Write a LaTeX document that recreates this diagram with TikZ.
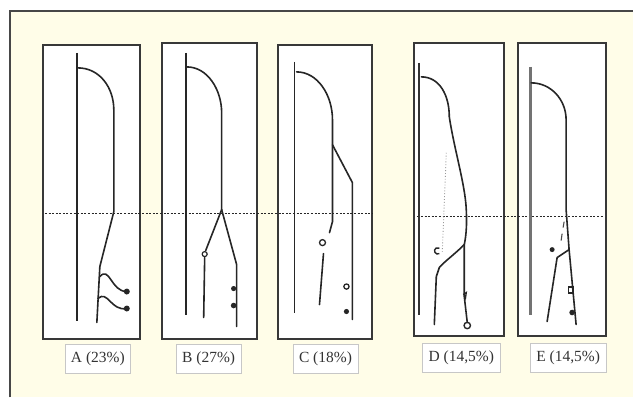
\documentclass[tikz,border=0pt]{standalone}
\usepackage{fontspec}
\setmainfont{Liberation Serif}
\usetikzlibrary{positioning}
\definecolor{paper}{HTML}{FFFDE8}
\tikzset{
  panel/.style={draw=black!78,line width=2pt,fill=white},
  trace/.style={black!85,line width=1.6pt,line cap=round,line join=round},
  shaft/.style={black!85,line width=1.8pt},
  midline/.style={black!85,line width=1.2pt,dash pattern=on 2pt off 1.6pt},
  tag/.style={draw=black!22,fill=white,line width=0.8pt,minimum height=29pt,
    inner xsep=6pt,text=black!80,font=\fontsize{15.5}{18}\selectfont},
}
\begin{document}
\begin{tikzpicture}[x=1pt,y=-1pt]
    \fill[white] (0,0) rectangle (634,398);
    \fill[paper] (10,11) rectangle (634,398);
    \draw[black!72,line width=2pt] (10,398) -- (10,11) -- (634,11);

    \draw[panel] (43,45) rectangle (140,340);
    \draw[panel] (162,43) rectangle (257,340);
    \draw[panel] (278,45) rectangle (373,340);
    \draw[panel] (415,43) rectangle (505,337);
    \draw[panel] (519,43) rectangle (607,337);

    \draw[midline] (45,214) -- (373,214);
    \draw[midline] (418,217) -- (605,217);

    % A
    \coordinate (Atop) at (78,68);
    \coordinate (Asplit) at (114,212);
    \draw[shaft] (77,53) -- (77,322);
    \draw[trace] (Atop) .. controls (100,68) and (114,88) .. (114,110)
        -- (Asplit) -- (100,267) -- (97,323);
    \draw[trace] (100,277) .. controls (110,266) and (111,292) .. (127,292);
    \draw[trace] (98,299) .. controls (108,290) and (111,312) .. (127,309);
    \fill[black!85] (127,292) circle (3) (127,309) circle (3);

    % B
    \coordinate (Btop) at (187,67);
    \coordinate (Bsplit) at (222,210);
    \draw[shaft] (186,53) -- (186,315);
    \draw[trace] (Btop) .. controls (208,67) and (222,90) .. (222,113) -- (Bsplit);
    \draw[trace] (Bsplit) -- (206,251);
    \draw[trace] (205,258) -- (204,318);
    \draw[trace] (Bsplit) -- (237,265) -- (237,327);
    \draw[black!85,line width=1.2pt] (205,254.5) circle (2.5);
    \fill[black!85] (234,289) circle (2.6) (234,306) circle (2.8);

    % C
    \coordinate (Ctop) at (297,72);
    \coordinate (Cfork) at (333,145);
    \draw[shaft] (295,62) -- (295,313);
    \draw[trace] (Ctop) .. controls (318,72) and (333,95) .. (333,120)
        -- (333,222) -- (330,233);
    \draw[trace] (Cfork) -- (353,183) -- (353,320);
    \draw[trace] (324,254) -- (320,305);
    \draw[black!85,line width=1.3pt] (323,243) circle (3);
    \draw[black!85,line width=1.3pt] (347,287) circle (2.6);
    \fill[black!85] (347,312) circle (2.6);

    % D
    \coordinate (Dtop) at (422,77);
    \coordinate (Dsplit) at (465,245);
    \draw[black!80,line width=2.2pt] (420,63) -- (420,315);
    \draw[trace] (Dtop) .. controls (440,77) and (450,95) .. (450,117)
        .. controls (455,150) and (466,185) .. (467,210)
        .. controls (468,230) and (466,240) .. (Dsplit);
    \draw[trace] (Dsplit) .. controls (455,255) and (445,262) .. (440,268)
        -- (437,277) -- (435,325);
    \draw[trace] (Dsplit) -- (465,297) -- (468,323);
    \draw[black!40,line width=0.9pt,dotted] (447,153) -- (443,252);
    \draw[black!85,line width=1.4pt] (440,254) arc (60:300:3.2);
    \draw[black!85,line width=1.3pt] (464,295) -- (467,293) -- (466,300);
    \draw[black!85,line width=1.4pt] (468,326) circle (3.2);

    % E
    \coordinate (Etop) at (532,83);
    \coordinate (Esplit) at (570,250);
    \draw[black!55,line width=3pt] (531,67) -- (531,315);
    \draw[trace] (Etop) .. controls (552,83) and (567,100) .. (567,120)
        -- (567,210) -- (Esplit) -- (577,325);
    \draw[trace] (Esplit) -- (558,258) -- (548,322);
    \draw[black!70,line width=1.1pt] (565,222) -- (564,228) (563,234) -- (562,241);
    \fill[black!85] (553,250) circle (2.5);
    \draw[black!85,line width=1.3pt] (569.5,287.5) rectangle (574.5,293.5);
    \fill[black!85] (573,313) circle (2.8);

    \node[tag] (tagA) at (98,359) {A (23\%)};
    \node[tag] (tagB) at (209,359) {B (27\%)};
    \node[tag] (tagC) at (326,359) {C (18\%)};
    \node[tag] (tagD) at (462,358) {D (14,5\%)};
    \node[tag] (tagE) at (569,358) {E (14,5\%)};
\end{tikzpicture}
\end{document}
